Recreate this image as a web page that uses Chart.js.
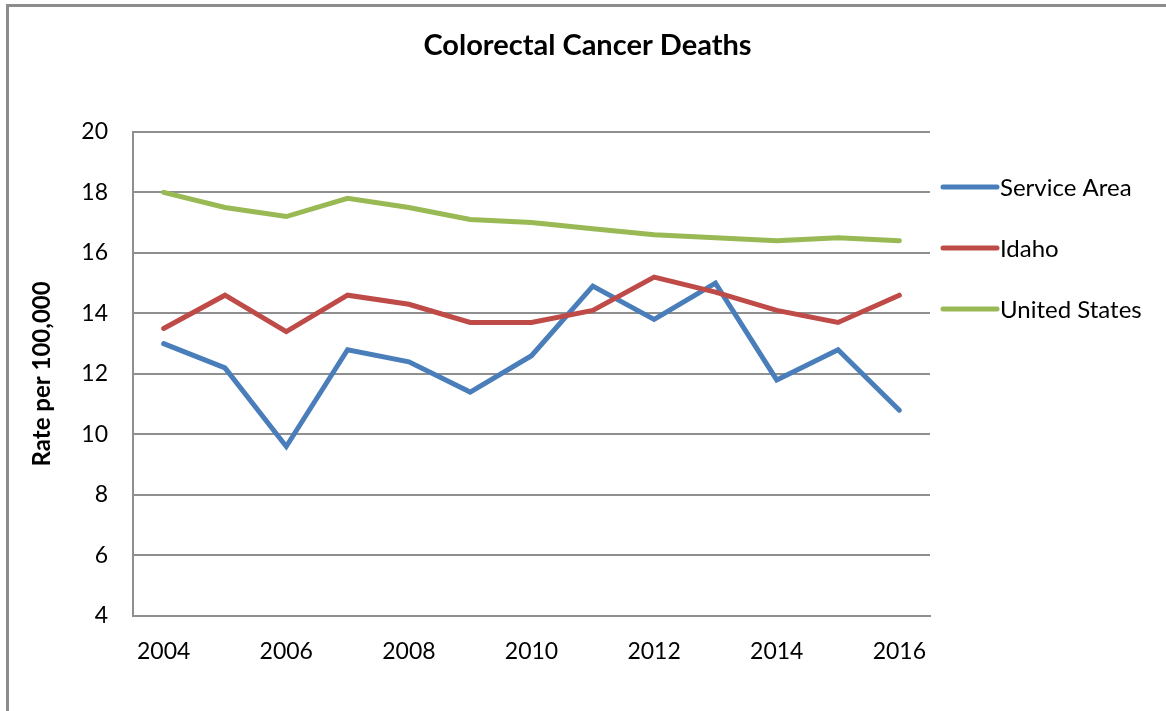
<!DOCTYPE html>
<html>
<head>
<meta charset="utf-8">
<title>Colorectal Cancer Deaths</title>
<script src="https://cdn.jsdelivr.net/npm/chart.js@4/dist/chart.umd.min.js"></script>
<style>
    body { margin: 0; background: #fff; overflow: hidden; }
    #frame {
        position: absolute; left: 6px; top: 4px; width: 1300px; height: 800px;
        border-left: 3px solid #8c8c8c; border-top: 3px solid #8c8c8c;
    }
    #wrap { position: absolute; left: 0; top: 0; width: 1166px; height: 711px; }
</style>
</head>
<body>
<div id="frame"></div>
<div id="wrap"><canvas id="chart"></canvas></div>
<script>
// Values
const years = ['2004', '2005', '2006', '2007', '2008', '2009', '2010', '2011', '2012', '2013', '2014', '2015', '2016'];
const serviceArea = [13.0, 12.2, 9.6, 12.8, 12.4, 11.4, 12.6, 14.9, 13.8, 15.0, 11.8, 12.8, 10.8];
const idaho = [13.5, 14.6, 13.4, 14.6, 14.3, 13.7, 13.7, 14.1, 15.2, 14.7, 14.1, 13.7, 14.6];
const unitedStates = [18.0, 17.5, 17.2, 17.8, 17.5, 17.1, 17.0, 16.8, 16.6, 16.5, 16.4, 16.5, 16.4];
const seriesNames = ['Service Area', 'Idaho', 'United States'];
const seriesColors = ['#4a7ebb', '#be4b48', '#98b954'];

Chart.defaults.font.family = 'Lato, "Open Sans", sans-serif';
Chart.defaults.color = '#000';

const gridColor = '#8f8f8f';

// Excel-style legend to the right of the plot area
const sideLegend = {
    id: 'sideLegend',
    afterDraw: function(chart) {
        const ctx = chart.ctx;
        const area = chart.chartArea;
        ctx.save();
        chart.data.datasets.forEach((ds, i) => {
            const y = 187 + i * 61;
            const x0 = area.right + 13;
            ctx.strokeStyle = ds.borderColor;
            ctx.lineWidth = 5;
            ctx.lineCap = 'round';
            ctx.beginPath();
            ctx.moveTo(x0, y);
            ctx.lineTo(x0 + 54, y);
            ctx.stroke();
            ctx.fillStyle = '#000';
            ctx.font = '24px Lato, "Open Sans", sans-serif';
            ctx.textBaseline = 'middle';
            ctx.textAlign = 'left';
            ctx.fillText(ds.label, x0 + 57, y + 1);
        });
        ctx.restore();
    }
};

function makeSeries(i, values) {
    return {
        label: seriesNames[i],
        data: values,
        borderColor: seriesColors[i],
        backgroundColor: seriesColors[i],
        borderWidth: 5,
        borderCapStyle: 'round',
        pointRadius: 0,
        pointHoverRadius: 0,
        tension: 0,
        order: 3 - i
    };
}

const ctx = document.getElementById('chart').getContext('2d');
new Chart(ctx, {
    type: 'line',
    data: {
        labels: years,
        datasets: [
            makeSeries(0, serviceArea),
            makeSeries(1, idaho),
            makeSeries(2, unitedStates)
        ]
    },
    options: {
        responsive: true,
        maintainAspectRatio: false,
        animation: false,
        layout: { padding: { left: 20, right: 11, top: 10, bottom: 10 } },
        plugins: {
            legend: { display: false },
            tooltip: { enabled: false },
            title: {
                display: true,
                text: 'Colorectal Cancer Deaths',
                font: { size: 29, weight: 'bold' },
                color: '#000',
                padding: { top: 18, bottom: 69 }
            }
        },
        scales: {
            x: {
                offset: true,
                grid: { display: false, drawTicks: false },
                border: { display: true, color: gridColor, width: 2 },
                ticks: {
                    autoSkip: false,
                    maxRotation: 0,
                    padding: 22,
                    font: { size: 23 },
                    callback: function(value, index) {
                        return index % 2 === 0 ? this.getLabelForValue(value) : '';
                    }
                },
                afterFit: function(scale) { scale.height = 85; }
            },
            y: {
                min: 4,
                max: 20,
                grid: { color: gridColor, lineWidth: 2, drawTicks: false },
                border: { display: true, color: gridColor, width: 2 },
                ticks: { stepSize: 2, padding: 25, font: { size: 23 } },
                title: {
                    display: true,
                    text: 'Rate per 100,000',
                    font: { size: 24, weight: 'bold' },
                    padding: { top: 8, bottom: 0 }
                },
                afterFit: function(scale) { scale.width = 113; }
            },
            side: {
                position: 'right',
                grid: { display: false, drawTicks: false },
                border: { display: false },
                ticks: { display: false },
                afterFit: function(scale) { scale.width = 225; }
            }
        }
    },
    plugins: [sideLegend]
});
</script>
</body>
</html>
